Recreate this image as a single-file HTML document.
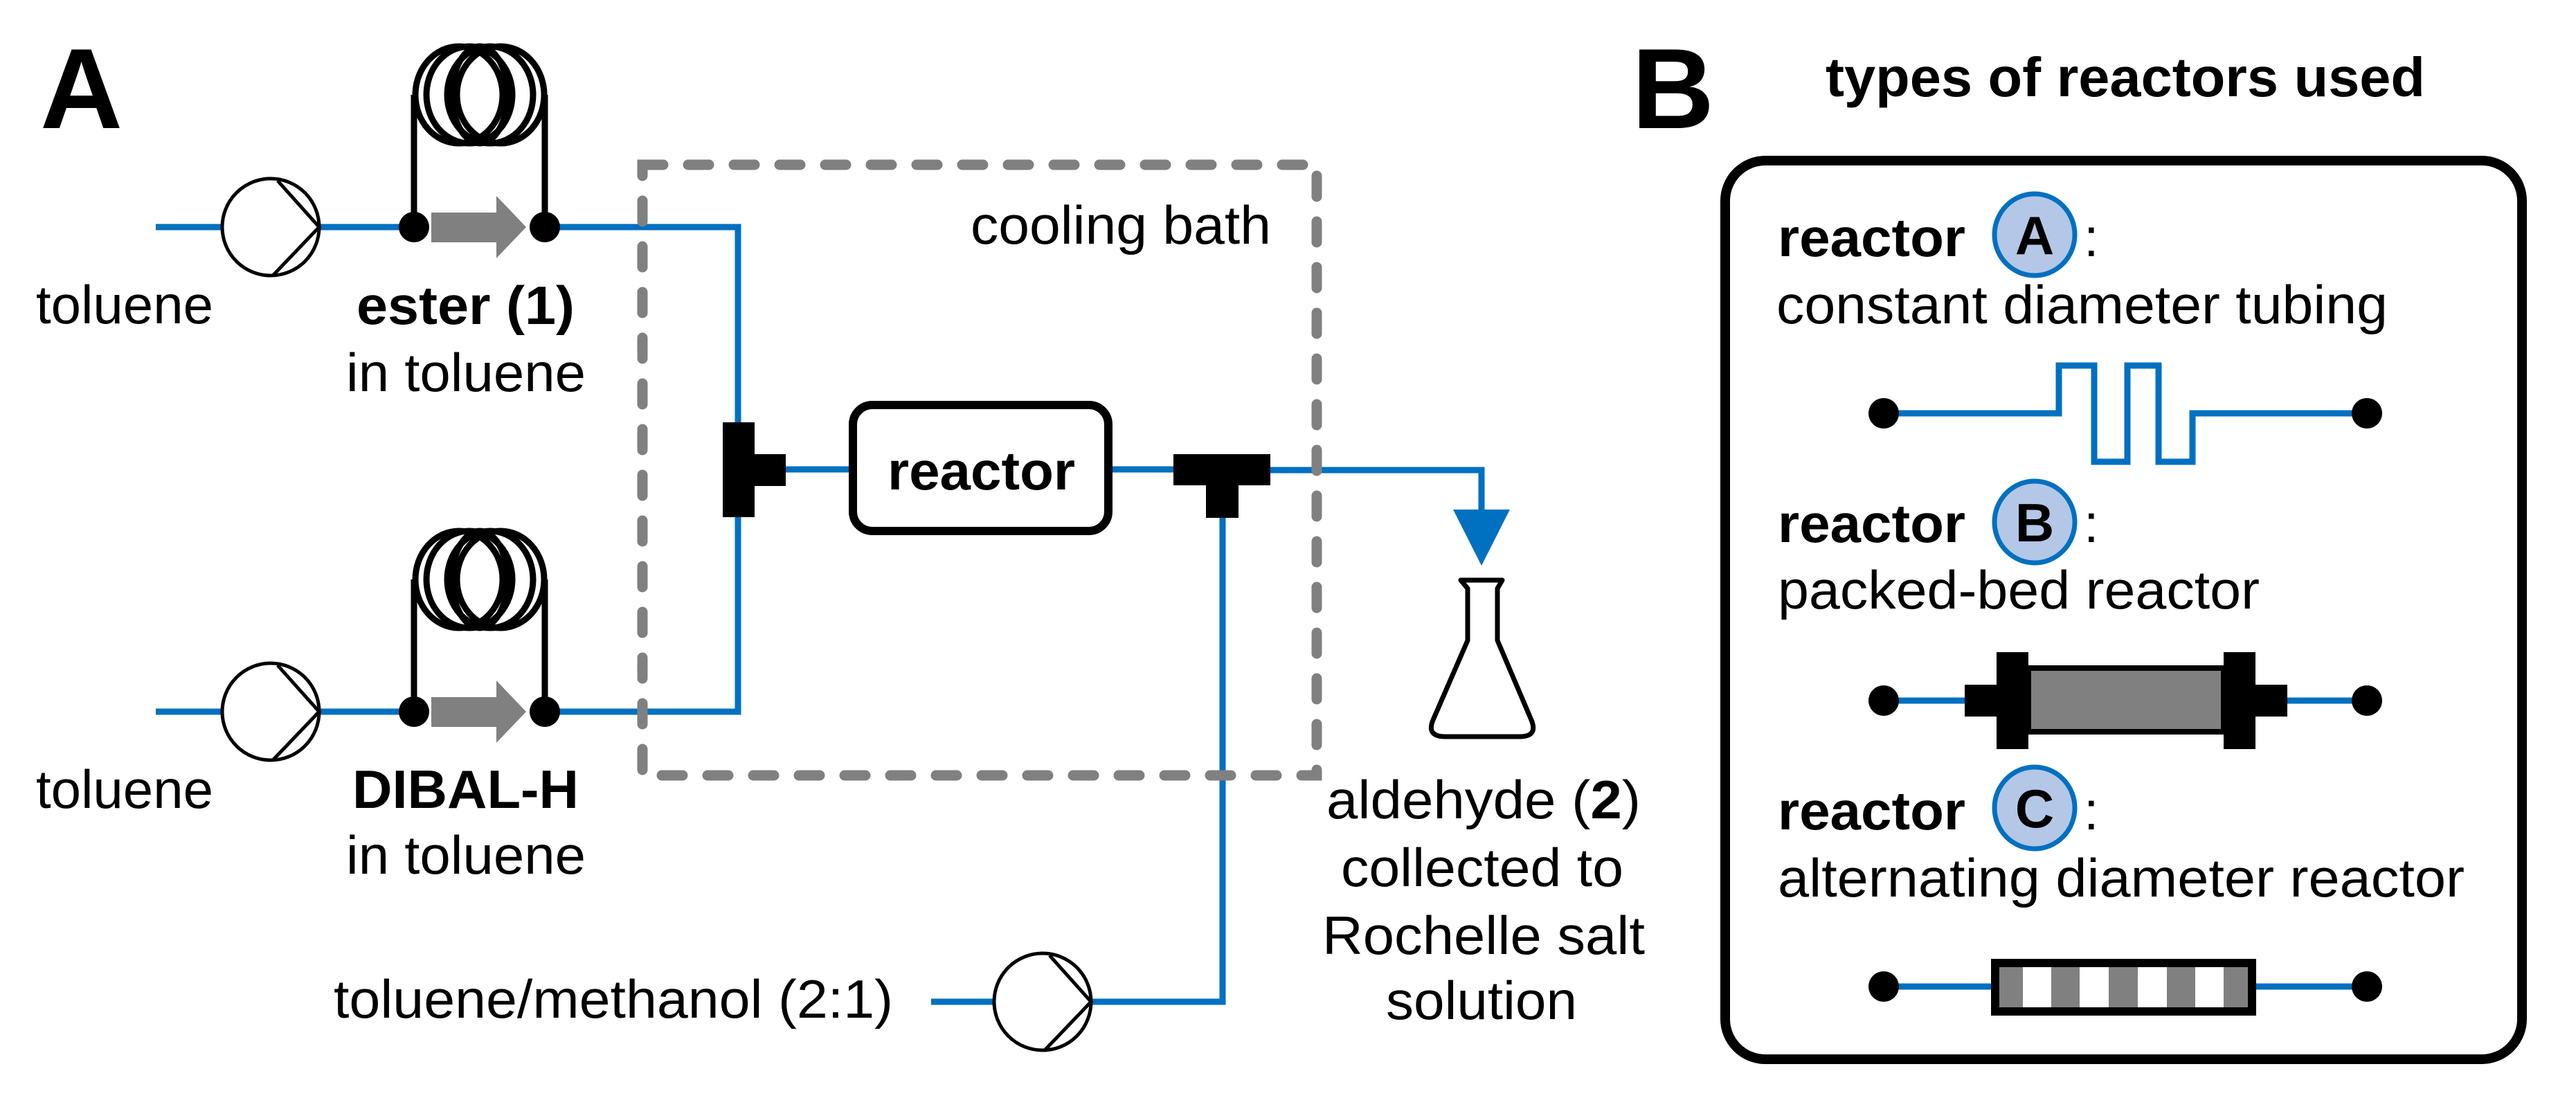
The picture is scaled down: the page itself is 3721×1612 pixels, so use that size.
<!DOCTYPE html>
<html><head><meta charset="utf-8"><style>
html,body{margin:0;padding:0;background:#fff;}
svg{display:block;}
text{font-family:"Liberation Sans",Arial,sans-serif;fill:#000;}
.b{font-weight:bold;}
</style></head><body>
<svg width="3721" height="1612" viewBox="0 0 3721 1612" xmlns="http://www.w3.org/2000/svg">
<defs>
<g id="coil" fill="none" stroke="#000" stroke-width="9">
  <ellipse cx="663" cy="137" rx="63" ry="70"/>
  <ellipse cx="678" cy="137" rx="62" ry="70"/>
  <ellipse cx="693" cy="137" rx="40" ry="70"/>
  <ellipse cx="708" cy="137" rx="62" ry="70"/>
  <ellipse cx="723" cy="137" rx="63" ry="70"/>
  <line x1="598" y1="137" x2="598" y2="328"/>
  <line x1="787" y1="137" x2="787" y2="328"/>
  <polygon points="623,307 717,307 717,283 760,328 717,373 717,350 623,350" fill="#808080" stroke="none"/>
  <circle cx="598" cy="328" r="22" fill="#000" stroke="none"/>
  <circle cx="787" cy="328" r="22" fill="#000" stroke="none"/>
</g>
<g id="pump" fill="none" stroke="#000" stroke-width="5">
  <circle cx="0" cy="0" r="70" fill="#fff"/>
  <polyline points="10,-67 70,0 4,69"/>
</g>
</defs>

<!-- blue lines -->
<g fill="none" stroke="#0070c0" stroke-width="9">
  <line x1="225" y1="328" x2="321" y2="328"/>
  <line x1="461" y1="328" x2="598" y2="328"/>
  <polyline points="787,328 1066,328 1066,610"/>
  <line x1="225" y1="1028" x2="321" y2="1028"/>
  <line x1="461" y1="1028" x2="598" y2="1028"/>
  <polyline points="787,1028 1066,1028 1066,747"/>
  <line x1="1135" y1="678" x2="1226" y2="678"/>
  <line x1="1607" y1="678" x2="1696" y2="678"/>
  <polyline points="1835,679 2140,679 2140,740"/>
  <polyline points="1766,748 1766,1447 1575,1447"/>
  <line x1="1345" y1="1447" x2="1436" y2="1447"/>
</g>
<polygon points="2099,736 2181,736 2140,817" fill="#0070c0"/>

<!-- dashed cooling bath -->
<rect x="928" y="238" width="974" height="882" fill="none" stroke="#808080" stroke-width="15" stroke-dasharray="30 36" stroke-linecap="round"/>

<use href="#coil"/>
<use href="#coil" y="700"/>
<use href="#pump" x="391" y="328"/>
<use href="#pump" x="391" y="1028"/>
<use href="#pump" x="1506" y="1447"/>

<!-- T junctions -->
<rect x="1044" y="610" width="46" height="137" fill="#000"/>
<rect x="1088" y="656" width="47" height="46" fill="#000"/>
<rect x="1695" y="656" width="140" height="45" fill="#000"/>
<rect x="1742" y="699" width="47" height="49" fill="#000"/>

<!-- reactor box -->
<rect x="1232" y="585" width="369" height="182" rx="28" fill="#fff" stroke="#000" stroke-width="12"/>
<text x="1282" y="707" font-size="78" class="b" textLength="271" lengthAdjust="spacingAndGlyphs">reactor</text>

<!-- flask -->
<path d="M2110,838 L2170,838 L2163,850 L2163,925 L2212,1040 Q2222,1064 2195,1064 L2088,1064 Q2060,1064 2070,1040 L2120,925 L2120,850 Z" fill="#fff" stroke="#000" stroke-width="7" stroke-linejoin="round"/>

<!-- panel A text -->
<text x="58" y="185" font-size="165" class="b">A</text>
<text x="52" y="467" font-size="78" textLength="256" lengthAdjust="spacingAndGlyphs">toluene</text>
<text x="515" y="468" font-size="78" class="b" textLength="315" lengthAdjust="spacingAndGlyphs">ester (1)</text>
<text x="500" y="565" font-size="78" textLength="346" lengthAdjust="spacingAndGlyphs">in toluene</text>
<text x="52" y="1167" font-size="78" textLength="256" lengthAdjust="spacingAndGlyphs">toluene</text>
<text x="509" y="1167" font-size="78" class="b" textLength="327" lengthAdjust="spacingAndGlyphs">DIBAL-H</text>
<text x="500" y="1262" font-size="78" textLength="346" lengthAdjust="spacingAndGlyphs">in toluene</text>
<text x="1402" y="352" font-size="78" textLength="434" lengthAdjust="spacingAndGlyphs">cooling bath</text>
<text x="482" y="1470" font-size="78" textLength="808" lengthAdjust="spacingAndGlyphs">toluene/methanol (2:1)</text>
<text x="1916" y="1182" font-size="78" textLength="454" lengthAdjust="spacingAndGlyphs">aldehyde (<tspan class="b">2</tspan>)</text>
<text x="1937" y="1280" font-size="78" textLength="408" lengthAdjust="spacingAndGlyphs">collected to</text>
<text x="1910" y="1378" font-size="78" textLength="466" lengthAdjust="spacingAndGlyphs">Rochelle salt</text>
<text x="2002" y="1472" font-size="78" textLength="276" lengthAdjust="spacingAndGlyphs">solution</text>

<!-- panel B -->
<text x="2357" y="185" font-size="165" class="b">B</text>
<text x="2637" y="139" font-size="80" class="b" textLength="866" lengthAdjust="spacingAndGlyphs">types of reactors used</text>
<rect x="2492" y="232" width="1151" height="1298" rx="58" fill="none" stroke="#000" stroke-width="14"/>

<g>
<text x="2568" y="370" font-size="78" class="b" textLength="271" lengthAdjust="spacingAndGlyphs">reactor</text>
<ellipse cx="2939" cy="339" rx="58" ry="59" fill="#b4c7e7" stroke="#0070c0" stroke-width="7"/>
<text x="2939" y="367" font-size="78" class="b" text-anchor="middle">A</text>
<text x="3010" y="370" font-size="78">:</text>
<text x="2566" y="467" font-size="78" textLength="883" lengthAdjust="spacingAndGlyphs">constant diameter tubing</text>
<polyline points="2719,597 2974,597 2974,528 3025,528 3025,667 3073,667 3073,528 3118,528 3118,667 3167,667 3167,597 3421,597" fill="none" stroke="#0070c0" stroke-width="9"/>
<circle cx="2721" cy="597" r="22" fill="#000"/>
<circle cx="3419" cy="597" r="22" fill="#000"/>
</g>

<g>
<text x="2568" y="783" font-size="78" class="b" textLength="271" lengthAdjust="spacingAndGlyphs">reactor</text>
<ellipse cx="2939" cy="754" rx="58" ry="59" fill="#b4c7e7" stroke="#0070c0" stroke-width="7"/>
<text x="2939" y="782" font-size="78" class="b" text-anchor="middle">B</text>
<text x="3010" y="783" font-size="78">:</text>
<text x="2568" y="879" font-size="78" textLength="696" lengthAdjust="spacingAndGlyphs">packed-bed reactor</text>
<line x1="2721" y1="1012" x2="3419" y2="1012" stroke="#0070c0" stroke-width="9"/>
<rect x="2930" y="965" width="282" height="92" fill="#808080" stroke="#000" stroke-width="8"/>
<rect x="2884" y="942" width="46" height="140" fill="#000"/>
<rect x="3212" y="942" width="46" height="140" fill="#000"/>
<rect x="2838" y="989" width="46" height="46" fill="#000"/>
<rect x="3258" y="989" width="46" height="46" fill="#000"/>
<circle cx="2721" cy="1012" r="22" fill="#000"/>
<circle cx="3419" cy="1012" r="22" fill="#000"/>
</g>

<g>
<text x="2568" y="1198" font-size="78" class="b" textLength="271" lengthAdjust="spacingAndGlyphs">reactor</text>
<ellipse cx="2939" cy="1167" rx="58" ry="59" fill="#b4c7e7" stroke="#0070c0" stroke-width="7"/>
<text x="2939" y="1195" font-size="78" class="b" text-anchor="middle">C</text>
<text x="3010" y="1198" font-size="78">:</text>
<text x="2568" y="1295" font-size="78" textLength="992" lengthAdjust="spacingAndGlyphs">alternating diameter reactor</text>
<line x1="2721" y1="1425" x2="3419" y2="1425" stroke="#0070c0" stroke-width="9"/>
<rect x="2882" y="1391" width="371" height="70" fill="#fff" stroke="#000" stroke-width="12"/>
<g fill="#808080">
<rect x="2888" y="1397" width="34" height="58"/>
<rect x="2963" y="1397" width="41" height="58"/>
<rect x="3046" y="1397" width="42" height="58"/>
<rect x="3130" y="1397" width="41" height="58"/>
<rect x="3212" y="1397" width="35" height="58"/>
</g>
<circle cx="2721" cy="1425" r="22" fill="#000"/>
<circle cx="3419" cy="1425" r="22" fill="#000"/>
</g>
</svg>
</body></html>
